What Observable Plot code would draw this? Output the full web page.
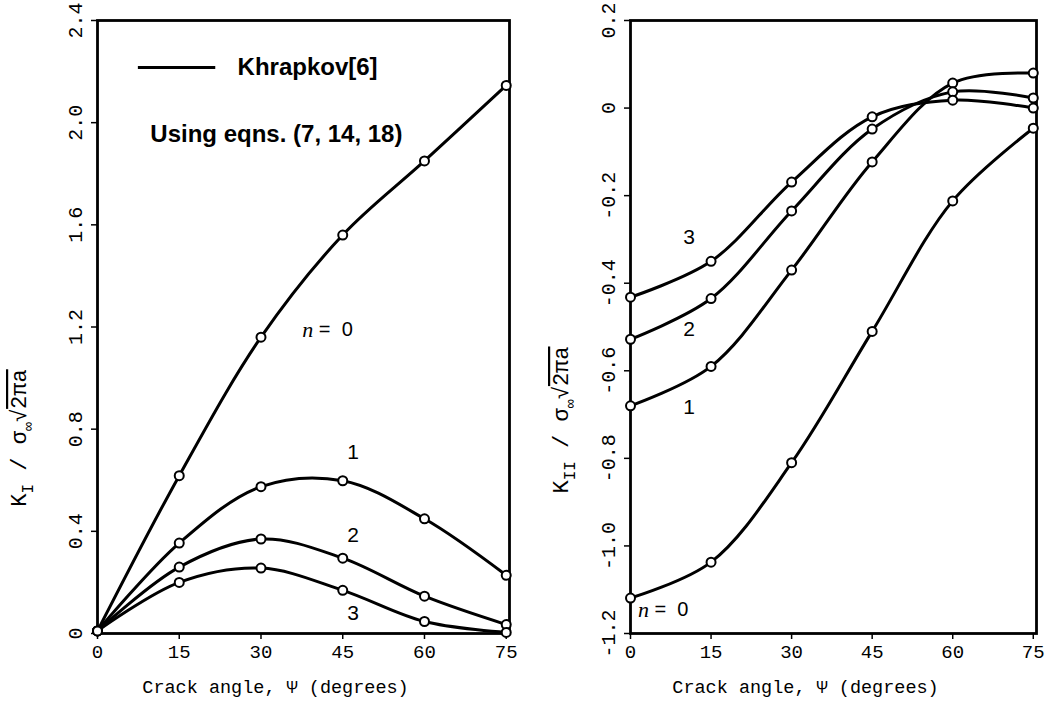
<!DOCTYPE html>
<html><head><meta charset="utf-8">
<script src="https://cdn.jsdelivr.net/npm/d3@7"></script>
<script src="https://cdn.jsdelivr.net/npm/@observablehq/plot@0.6"></script>
<style>
body{margin:0;background:#fff;}
#wrap{display:flex;width:1045px;height:704px;background:#fff;}
svg text{fill:#000;}
</style></head><body><div id="wrap"></div>
<script>
// ---- data ----
const angles = [0, 15, 30, 45, 60, 75];
const seriesNames = ["0", "1", "2", "3"];
// Left panel: K_I / sigma sqrt(2 pi a)
const kI_n0 = [0.01, 0.618, 1.16, 1.56, 1.85, 2.146];
const kI_n1 = [0.01, 0.354, 0.575, 0.598, 0.449, 0.228];
const kI_n2 = [0.01, 0.26, 0.37, 0.295, 0.146, 0.035];
const kI_n3 = [0.01, 0.2, 0.256, 0.169, 0.047, 0.004];
// Right panel: K_II / sigma sqrt(2 pi a)
const kII_n0 = [-1.119, -1.037, -0.81, -0.51, -0.212, -0.046];
const kII_n1 = [-0.68, -0.59, -0.37, -0.123, 0.057, 0.08];
const kII_n2 = [-0.528, -0.435, -0.235, -0.048, 0.037, 0.023];
const kII_n3 = [-0.432, -0.35, -0.169, -0.02, 0.018, 0.0];
// tick labels
const xTicks = [0, 15, 30, 45, 60, 75];
const yTicksI = [0, 0.4, 0.8, 1.2, 1.6, 2.0, 2.4];
const yTicksII = [0.2, 0, -0.2, -0.4, -0.6, -0.8, -1.0, -1.2];
// curve labels (angle, value, text)
const labelsI = [{a: 46.9, v: 0.709, t: "1"}, {a: 46.9, v: 0.386, t: "2"}, {a: 46.9, v: 0.079, t: "3"}];
const nLabelI = [{a: 38.6, v: 1.19}];
const labelsII = [{a: 10.9, v: -0.295, t: "3"}, {a: 10.9, v: -0.506, t: "2"}, {a: 10.9, v: -0.684, t: "1"}];
const nLabelII = [{a: 2.4, v: -1.146}];
const xLabel = "Crack angle, \u03A8 (degrees)";
const legendLine = "Khrapkov[6]";
const legendNote = "Using eqns. (7, 14, 18)";

const MONO = "'Liberation Mono', 'DejaVu Sans Mono', monospace";
const SANS = "'Liberation Sans', Arial, sans-serif";
const fmt = d => d === 0 ? "0" : d.toFixed(1);

function rows(list) {
  return list.flatMap(([n, vals]) => angles.map((a, i) => ({n, a, v: vals[i]})));
}

function panel({width, marginLeft, marginRight, yDomain, yTicks, data, labels, nLabel, extra, yLabelSub, yLabelX, yLabelY}) {
  const svg = Plot.plot({
    width, height: 704,
    marginTop: 20, marginBottom: 71, marginLeft, marginRight,
    style: {fontFamily: MONO, fontSize: "18px", background: "#fff", color: "#000", overflow: "visible"},
    x: {domain: [0, 75.6]},
    y: {domain: yDomain},
    marks: [
      Plot.frame({stroke: "#000", strokeWidth: 2.8}),
      Plot.axisX({ticks: xTicks, tickSize: 6, tickPadding: 5, tickFormat: d => String(d), label: null, fontSize: 19, strokeWidth: 1.5}),
      Plot.axisY({ticks: yTicks, tickSize: 6, tickFormat: () => "", label: null, strokeWidth: 1.5}),
      Plot.text(yTicks, {y: d => d, frameAnchor: "left", dx: -22, rotate: -90, text: fmt, fontSize: 20, textAnchor: "middle", lineAnchor: "middle"}),
      Plot.text([xLabel], {frameAnchor: "bottom", dx: -28, dy: 59, fontSize: 18.5, fontFamily: MONO}),
      Plot.line(data, {x: "a", y: "v", z: "n", curve: "catmull-rom", stroke: "#000", strokeWidth: 3}),
      Plot.dot(data, {x: "a", y: "v", r: 4.5, fill: "#fff", stroke: "#000", strokeWidth: 2}),
      Plot.text(labels, {x: "a", y: "v", text: "t", fontFamily: SANS, fontSize: 21}),
      Plot.text(nLabel, {x: "a", y: "v", text: () => "n", fontFamily: "'Liberation Serif', serif", fontStyle: "italic", fontSize: 22}),
      Plot.text(nLabel, {x: "a", y: "v", text: () => "=  0", fontFamily: SANS, fontSize: 20, textAnchor: "start", dx: 11}),
      ...(extra || [])
    ]
  });
  // y-axis title with subscript parts and an overlined radicand
  const t = d3.select(svg).append("text")
    .attr("transform", `translate(${yLabelX},${yLabelY}) rotate(-90)`)
    .attr("text-anchor", "middle")
    .attr("font-family", MONO)
    .attr("font-size", 22);
  t.append("tspan").text("K");
  t.append("tspan").attr("font-size", 16).attr("dy", 7).text(yLabelSub);
  t.append("tspan").attr("dy", -7).text(" / \u03C3");
  t.append("tspan").attr("font-size", 15).attr("dy", 7).text("\u221E");
  t.append("tspan").attr("dy", -7).text("\u221A");
  t.append("tspan").attr("text-decoration", "overline").text("2\u03C0a");
  return svg;
}

const left = panel({
  width: 520, marginLeft: 97, marginRight: 11,
  yDomain: [0, 2.4], yTicks: yTicksI,
  data: rows([["0", kI_n0], ["1", kI_n1], ["2", kI_n2], ["3", kI_n3]]),
  labels: labelsI, nLabel: nLabelI,
  yLabelSub: "I", yLabelX: 26, yLabelY: 438,
  extra: [
    Plot.ruleY([2.216], {x1: 7.5, x2: 21.7, stroke: "#000", strokeWidth: 3}),
    Plot.text([legendLine], {x: 25.7, y: 2.216, textAnchor: "start", fontFamily: SANS, fontWeight: "bold", fontSize: 24}),
    Plot.text([legendNote], {x: 9.7, y: 1.953, textAnchor: "start", fontFamily: SANS, fontWeight: "bold", fontSize: 24})
  ]
});
const right = panel({
  width: 525, marginLeft: 110, marginRight: 9,
  yDomain: [-1.2, 0.2], yTicks: yTicksII,
  data: rows([["0", kII_n0], ["1", kII_n1], ["2", kII_n2], ["3", kII_n3]]),
  labels: labelsII, nLabel: nLabelII,
  yLabelSub: "II", yLabelX: 48, yLabelY: 420
});
document.getElementById("wrap").append(left, right);
</script></body></html>
